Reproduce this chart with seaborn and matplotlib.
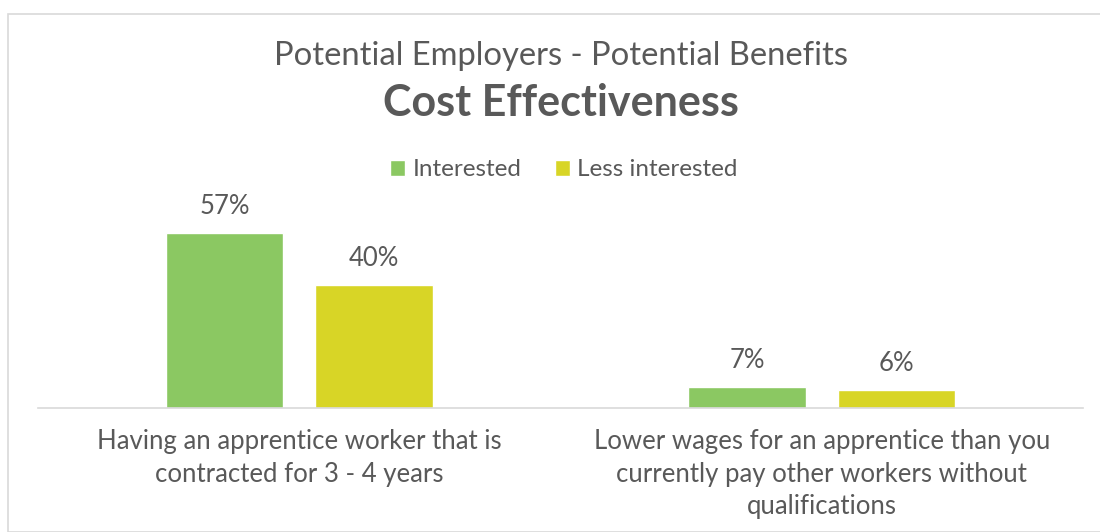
import matplotlib
matplotlib.use("Agg")
import matplotlib.pyplot as plt
import seaborn as sns
import pandas as pd
from matplotlib.patches import Rectangle

# Survey results
categories = [
    "Having an apprentice worker that is\ncontracted for 3 - 4 years",
    "Lower wages for an apprentice than you\ncurrently pay other workers without\nqualifications",
]
series_names = ["Interested", "Less interested"]
interested = [57, 7]
less_interested = [40, 6]

colors = ["#8BC862", "#D8D526"]
text_color = "#595959"

df = pd.DataFrame({
    "category": categories * 2,
    "group": [series_names[0]] * 2 + [series_names[1]] * 2,
    "value": interested + less_interested,
})

sns.set_theme(style="white")
plt.rcParams["font.family"] = ["Lato", "DejaVu Sans"]

W, H = 1100, 532
fig = plt.figure(figsize=(W / 100, H / 100), dpi=100)

# outer chart frame
fig.patches.append(Rectangle((8 / W, 0), 1.2, 1 - 14 / H, transform=fig.transFigure,
                             fill=False, edgecolor="#D9D9D9", linewidth=1.2))

ax = fig.add_axes([38 / W, (H - 408) / H, (1083 - 38) / W, (408 - 150) / H])
sns.barplot(data=df, x="category", y="value", hue="group", palette=colors,
            width=0.573, gap=0.217, saturation=1, ax=ax, legend=True)

ax.set_ylim(0, 84)
ax.set_xlim(-0.5, 1.5)
for c in ax.containers:
    ax.bar_label(c, fmt="%.0f%%", padding=10, fontsize=18.5, color=text_color)

ax.set_xlabel("")
ax.set_ylabel("")
ax.set_yticks([])
for s in ["top", "right", "left"]:
    ax.spines[s].set_visible(False)
ax.spines["bottom"].set_color("#D9D9D9")
ax.spines["bottom"].set_linewidth(1.2)
ax.tick_params(axis="x", length=0, pad=15, labelsize=18.5, labelcolor=text_color)
for lab in ax.get_xticklabels():
    lab.set_multialignment("center")
    lab.set_linespacing(1.39)

handles, labels = ax.get_legend_handles_labels()
ax.legend(handles, labels, loc="center", bbox_to_anchor=(564 / W, (H - 170) / H),
          bbox_transform=fig.transFigure, ncol=2, frameon=False, fontsize=17.5,
          labelcolor=text_color, handlelength=0.6, handleheight=0.6,
          handletextpad=0.3, columnspacing=1.4)

fig.text(561 / W, 1 - 56 / H, "Potential Employers - Potential Benefits",
         ha="center", va="center", fontsize=23.6, color=text_color)
fig.text(561 / W, 1 - 103 / H, "Cost Effectiveness", ha="center", va="center",
         fontsize=31, fontweight="bold", color=text_color)

fig.savefig("out.png", dpi=100)
